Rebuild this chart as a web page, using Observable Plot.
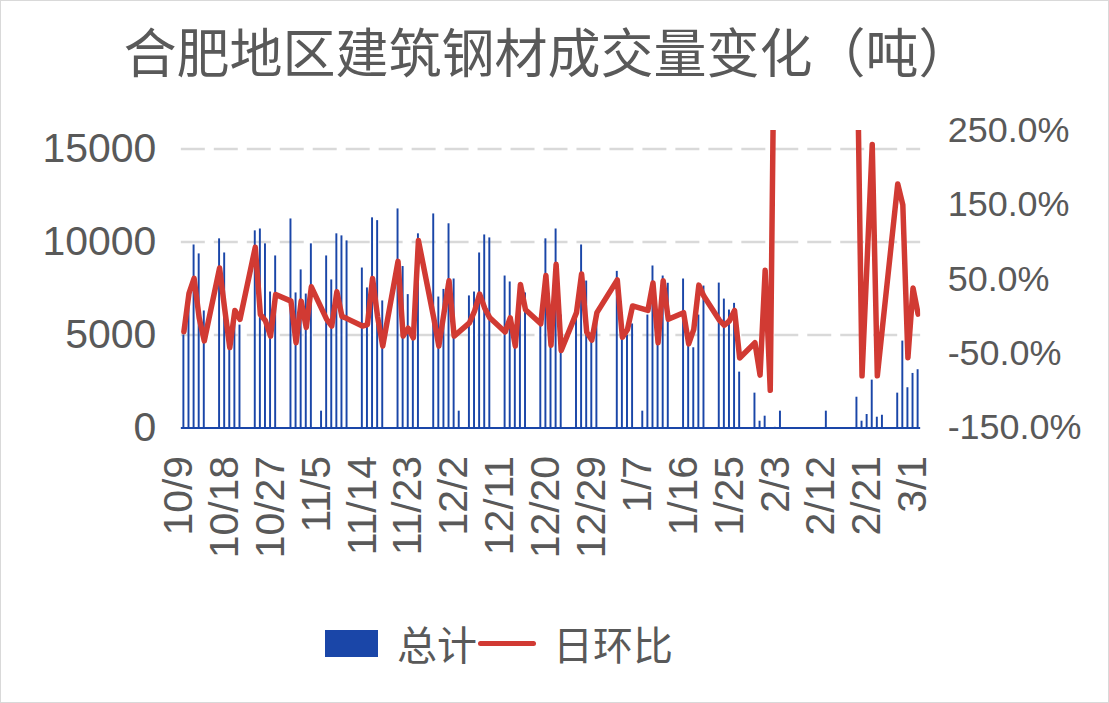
<!DOCTYPE html>
<html>
<head>
<meta charset="utf-8">
<script src="https://cdn.jsdelivr.net/npm/d3@7"></script>
<script src="https://cdn.jsdelivr.net/npm/@observablehq/plot@0.6"></script>
<style>
html,body{margin:0;padding:0;background:#fff;}
#wrap{position:relative;width:1109px;height:703px;box-sizing:border-box;border:1px solid #d9d9d9;overflow:hidden;background:#fff;}
#title{position:absolute;left:-7px;top:19px;width:1107px;text-align:center;font-family:"Noto Sans CJK SC";font-size:53px;line-height:60px;color:#595959;white-space:nowrap;}
#chart{position:absolute;left:-1px;top:99px;}
.leg{position:absolute;font-family:"Noto Sans CJK SC";font-size:40px;line-height:40px;color:#595959;white-space:nowrap;}
</style>
</head>
<body>
<div id="wrap">
  <div id="title">合肥地区建筑钢材成交量变化（吨）</div>
  <div id="chart"></div>
  <div class="leg" style="left:324px;top:629px;width:53px;height:27px;background:#1a46a8;"></div>
  <div class="leg" id="l1" style="left:396px;top:622px;">总计</div>
  <div class="leg" style="left:477px;top:640px;width:58px;height:5px;border-radius:3px;background:#d13a33;"></div>
  <div class="leg" id="l2" style="left:552px;top:622px;">日环比</div>
</div>
<script>
// ---- data ----
const barDates = ["10/9","10/10","10/11","10/12","10/13","10/16","10/17","10/18","10/19","10/20",
  "10/23","10/24","10/25","10/26","10/27","10/30","10/31","11/1","11/2","11/3","11/5",
  "11/6","11/7","11/8","11/9","11/10","11/13","11/14","11/15","11/16","11/17",
  "11/20","11/21","11/22","11/23","11/24","11/27","11/28","11/29","11/30","12/1","12/2",
  "12/4","12/5","12/6","12/7","12/8","12/11","12/12","12/13","12/14","12/15",
  "12/18","12/19","12/20","12/21","12/22","12/25","12/26","12/27","12/28","12/29",
  "1/2","1/3","1/4","1/5","1/7","1/8","1/9","1/10","1/11","1/12",
  "1/15","1/16","1/17","1/18","1/19","1/22","1/23","1/24","1/25","1/26",
  "1/29","1/30","1/31","2/1","2/2","2/3","2/12","2/18","2/19","2/20","2/21","2/22","2/23",
  "2/26","2/27","2/28","2/29","3/1"];
const barValues = [5000,6900,9840,9360,6290,10170,9410,4300,6200,5530,
  10600,10700,9900,7310,9250,11240,7260,8500,7200,9900,900,
  9250,7960,10440,10330,10060,8600,7530,11300,11150,6830,
  11780,8680,7170,4800,10440,11510,7040,7450,10980,8010,900,
  7100,7310,9410,10380,10220,8170,7850,4400,7600,7260,
  5650,10170,4440,10700,6070,6200,9840,7900,4760,5700,
  8420,6180,4990,5590,900,6070,8710,4600,8170,7780,
  8010,4520,4310,6070,7630,7790,6930,6340,6700,3000,
  1870,360,630,5,30,900,900,1650,360,720,2570,575,680,
  1870,4670,2160,2930,3130];

const ratioDates = ["10/9","10/10","10/11","10/12","10/13","10/16","10/17","10/18","10/19","10/20",
  "10/23","10/24","10/25","10/26","10/27","10/30","10/31","11/1","11/2","11/3",
  "11/6","11/7","11/8","11/9","11/10","11/13","11/14","11/15","11/16","11/17",
  "11/20","11/21","11/22","11/23","11/24","11/27","11/28","11/29","11/30","12/1",
  "12/4","12/5","12/6","12/7","12/8","12/11","12/12","12/13","12/14","12/15",
  "12/18","12/19","12/20","12/21","12/22","12/25","12/26","12/27","12/28","12/29",
  "1/2","1/3","1/4","1/5","1/8","1/9","1/10","1/11","1/12",
  "1/15","1/16","1/17","1/18","1/19","1/22","1/23","1/24","1/25","1/26",
  "1/29","1/30","1/31","2/1","2/2","2/18","2/19","2/20","2/21","2/22","2/23",
  "2/26","2/27","2/28","2/29","3/1"];
// 日环比, percent
const ratioValues = [-20.7,31,51,-2,-33,65,10,-42,8,-4,
  93,2.6,-6,-26.5,29.5,20.5,-35.5,20.5,-15,39.7,
  -4,-13,33,0,-3,-13,-11,51,-1,-40,
  74,-26.5,-16,-29,102,-2,-40,4,48,-26.5,
  -8.7,7,30,11,-2,-21,-2,-40,43,9,
  -10,55,-39,70,-46,5,57,-21,-32,5,
  49,-28,-17.5,14,8,45,-35.5,48,-4,
  5,-37,-17.5,42,27,-5,-12,-6,8,-56,
  -35.5,-79,62,-99.4,540,390,-80,75,231,-80,-15,
  178,150,-55.6,38,3];

const tickLabels = ["10/9","10/18","10/27","11/5","11/14","11/23","12/2","12/11","12/20","12/29",
  "1/7","1/16","1/25","2/3","2/12","2/21","3/1"];
const leftTicks = [0,5000,10000,15000];
const rightTicks = [-150,-50,50,150,250];

// ---- build ----
const fmtDay = d => `${d.getUTCMonth()+1}/${d.getUTCDate()}`;
const allDays = d3.utcDay.range(new Date(Date.UTC(2023,9,9)), new Date(Date.UTC(2024,2,2))).map(fmtDay);
const bars = barDates.map((date,i) => ({date, value: barValues[i]}));
const ratios = ratioDates.map((date,i) => ({date, r: ratioValues[i]}));
// right axis (-150%..250%) shares the left axis (0..16000) range
const toLeft = r => (r + 150) * 40;

const chart = Plot.plot({
  width: 1109,
  height: 500,
  marginLeft: 181,
  marginRight: 188,
  marginTop: 30,
  marginBottom: 172.3,
  style: {fontFamily: "'Liberation Sans', Arial, sans-serif", color: "#595959", background: "transparent", overflow: "visible"},
  x: {type: "band", domain: allDays, paddingInner: 0.62, paddingOuter: 0.31, align: 0.5, round: false, axis: null},
  y: {domain: [0, 16000], axis: null, label: null},
  marks: [
    Plot.gridY(leftTicks.filter(v => v > 0), {stroke: "#d9d9d9", strokeOpacity: 1, strokeWidth: 2.5, strokeDasharray: "24,9"}),
    Plot.barY(bars, {x: "date", y: "value", fill: "#1a46a8"}),
    Plot.ruleY([0], {stroke: "#1a46a8", strokeWidth: 2}),
    Plot.lineY(ratios, {x: "date", y: d => toLeft(d.r), stroke: "#d13a33", strokeWidth: 5.5, strokeLinejoin: "round", strokeLinecap: "round", clip: true}),
    Plot.axisY(leftTicks, {anchor: "left", tickSize: 0, tickPadding: 25, fontSize: 41, label: null, tickFormat: d3.format("d")}),
    Plot.axisY(rightTicks.map(toLeft), {anchor: "right", tickSize: 0, tickPadding: 27, fontSize: 36, label: null, tickFormat: v => (v / 40 - 150).toFixed(1) + "%"}),
    Plot.axisX(tickLabels, {anchor: "bottom", tickSize: 0, tickPadding: 28, tickRotate: -90, fontSize: 41, dx: -5, label: null})
  ]
});
document.getElementById("chart").appendChild(chart);
</script>
</body>
</html>
